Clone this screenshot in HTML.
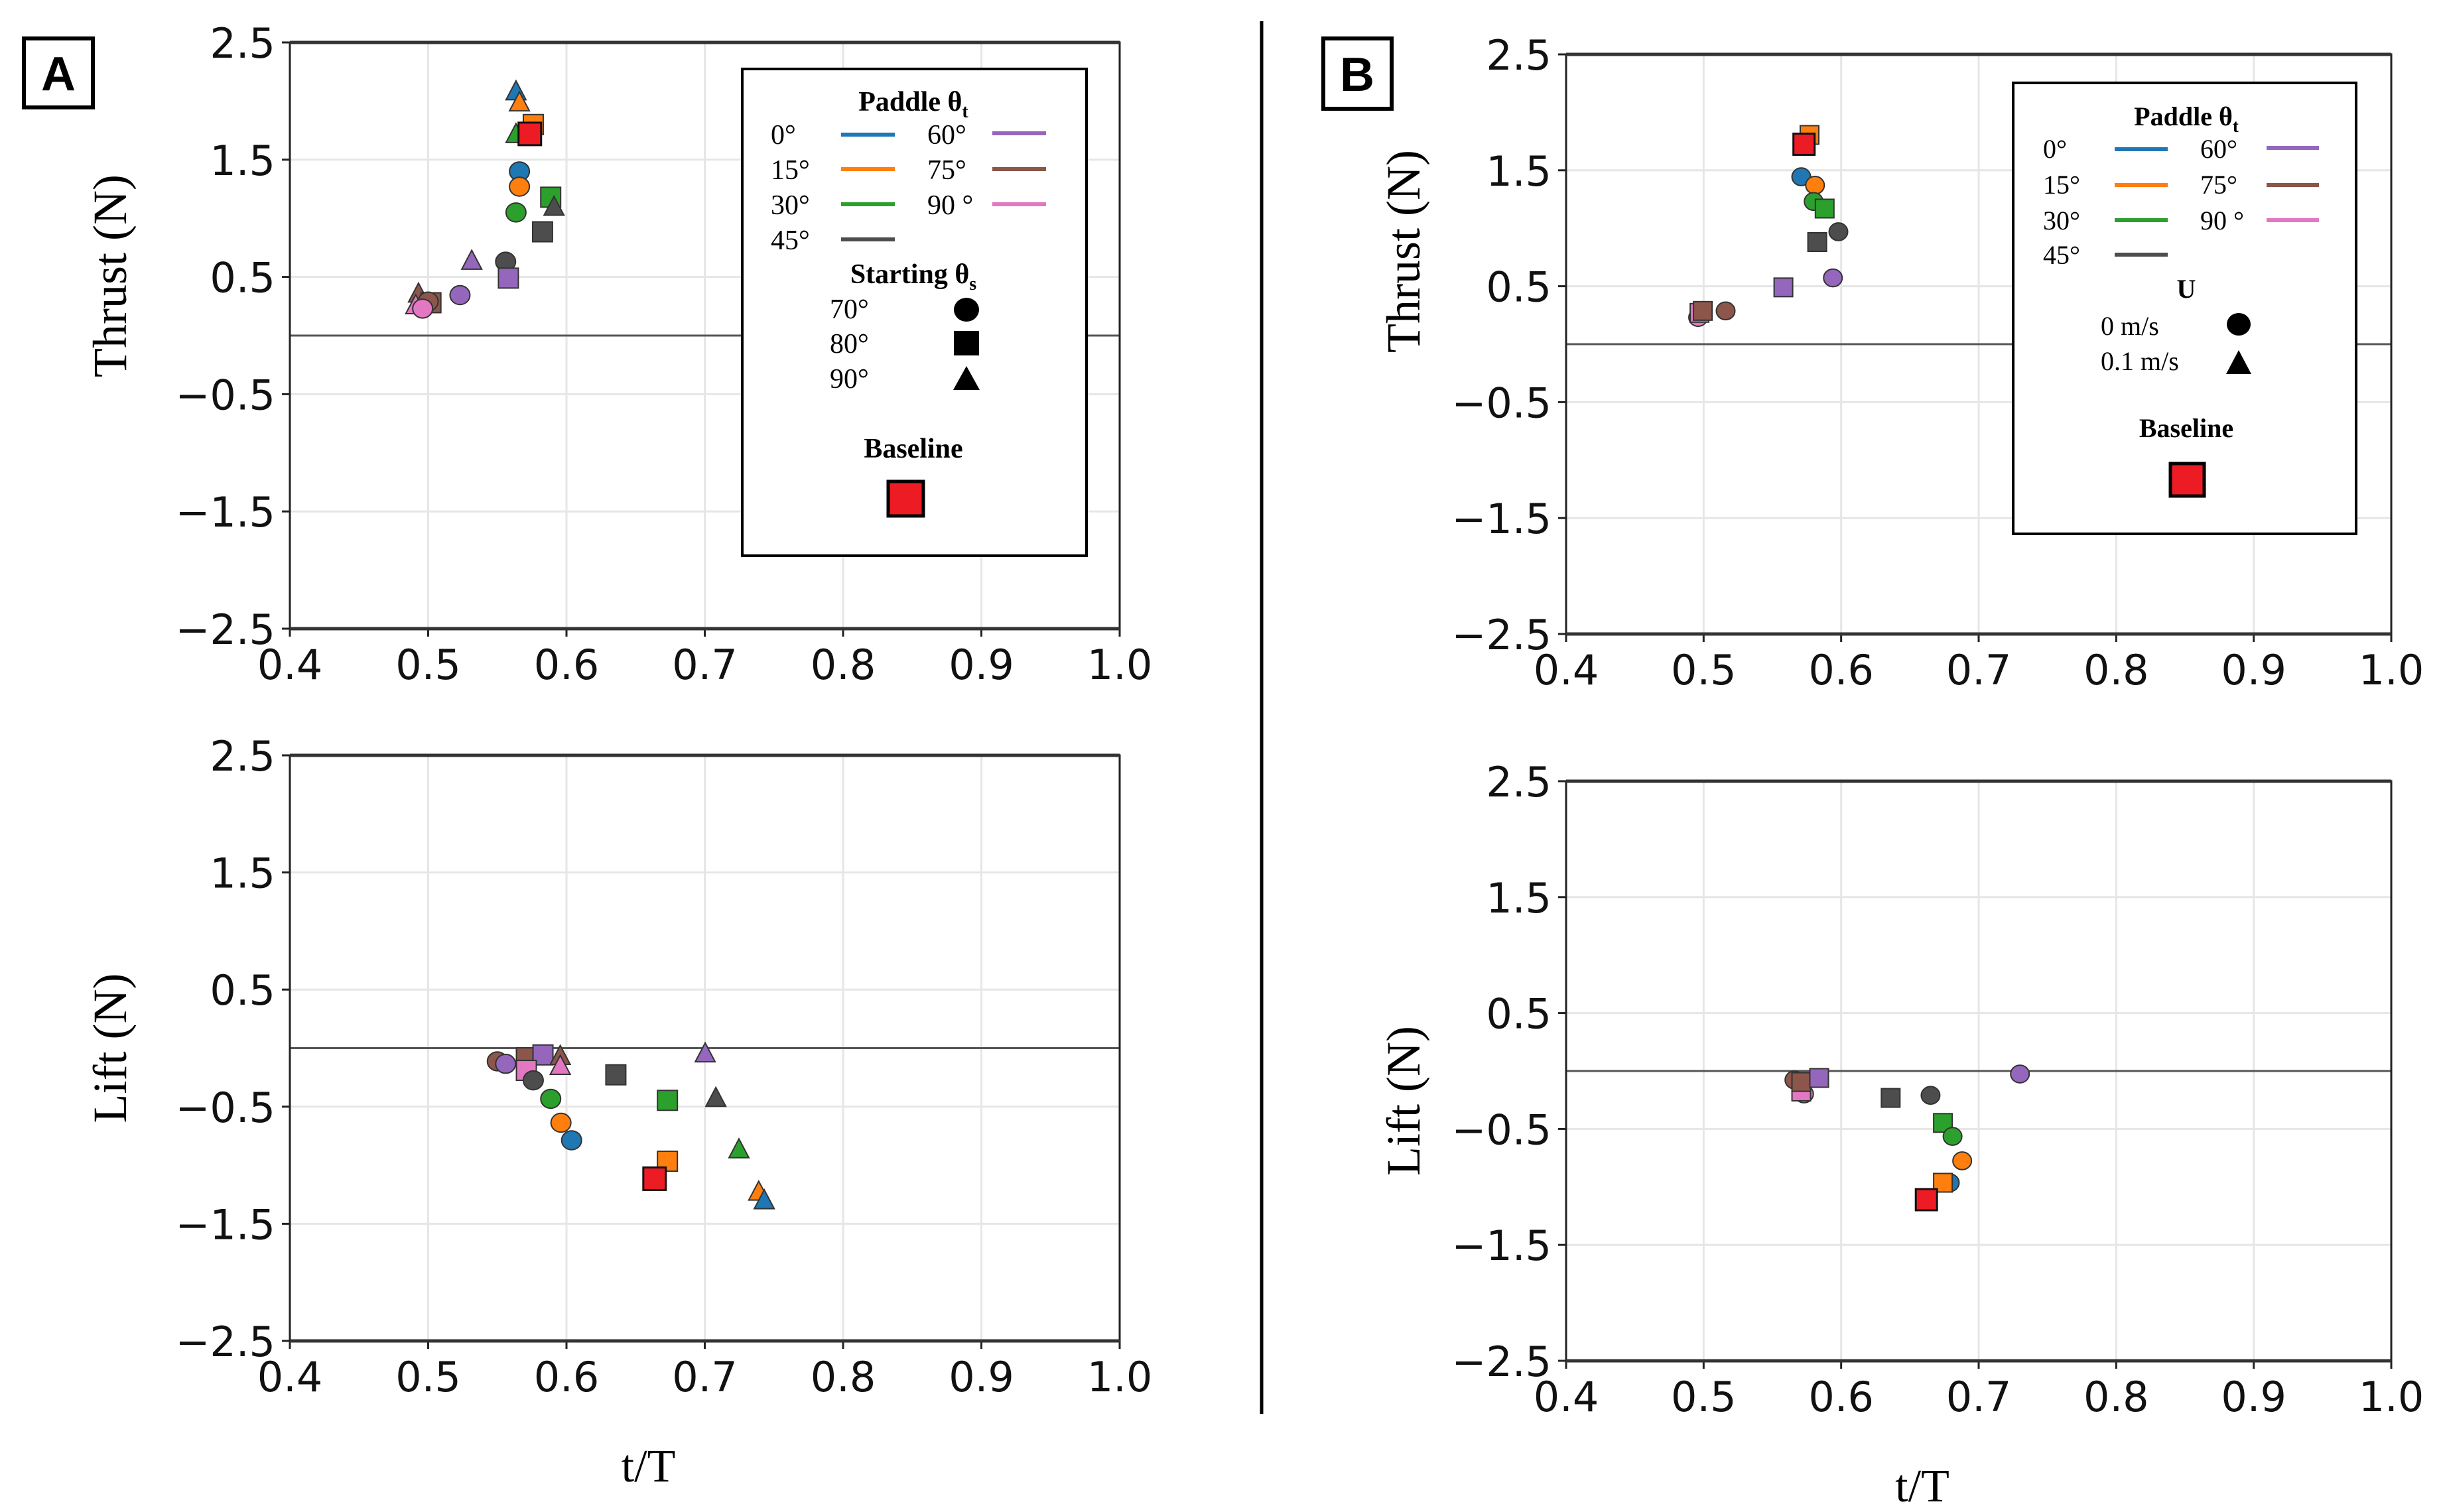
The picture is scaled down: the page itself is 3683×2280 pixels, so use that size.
<!DOCTYPE html>
<html><head><meta charset="utf-8"><style>
html,body{margin:0;padding:0;background:#fff;}
svg{display:block;}
.tick{font-family:"DejaVu Sans","Liberation Sans",sans-serif;font-size:62px;fill:#111;}
.ser{font-family:"Liberation Serif",serif;fill:#000;}
</style></head><body>
<svg id="fig" width="3683" height="2280" viewBox="0 0 3683 2280" xmlns="http://www.w3.org/2000/svg">
<rect width="3683" height="2280" fill="#fff"/>
<g id="plots"></g>
<line x1="1902" y1="32" x2="1902" y2="2132" stroke="#000" stroke-width="5"/>
<g>
<rect x="36" y="58" width="104" height="104" fill="#fff" stroke="#000" stroke-width="6"/>
<text x="88" y="136" text-anchor="middle" font-family="Liberation Sans, sans-serif" font-weight="bold" font-size="72">A</text>
</g>
<g>
<rect x="1995" y="58" width="103" height="106" fill="#fff" stroke="#000" stroke-width="6"/>
<text x="2046" y="137" text-anchor="middle" font-family="Liberation Sans, sans-serif" font-weight="bold" font-size="72">B</text>
</g>
<g class="ser">
<rect x="1119" y="104" width="519" height="734" fill="#fff" stroke="#000" stroke-width="4"/>
<text x="1377" y="167" text-anchor="middle" font-weight="bold" font-size="42">Paddle θ<tspan font-size="28" dy="10">t</tspan></text>
<g font-size="42">
<text x="1162" y="217">0°</text><line x1="1268" y1="203" x2="1349" y2="203" stroke="#1f77b4" stroke-width="6"/>
<text x="1162" y="270">15°</text><line x1="1268" y1="255" x2="1349" y2="255" stroke="#ff7f0e" stroke-width="6"/>
<text x="1162" y="323">30°</text><line x1="1268" y1="308" x2="1349" y2="308" stroke="#2ca02c" stroke-width="6"/>
<text x="1162" y="376">45°</text><line x1="1268" y1="361" x2="1349" y2="361" stroke="#4d4d4d" stroke-width="6"/>
<text x="1398" y="217">60°</text><line x1="1496" y1="201" x2="1577" y2="201" stroke="#9467bd" stroke-width="6"/>
<text x="1398" y="270">75°</text><line x1="1496" y1="255" x2="1577" y2="255" stroke="#8c564b" stroke-width="6"/>
<text x="1398" y="323">90 °</text><line x1="1496" y1="308" x2="1577" y2="308" stroke="#e377c2" stroke-width="6"/>
</g>
<text x="1377" y="427" text-anchor="middle" font-weight="bold" font-size="42">Starting θ<tspan font-size="28" dy="10">s</tspan></text>
<g font-size="42">
<text x="1251" y="480">70°</text><ellipse cx="1457" cy="467" rx="19" ry="18" fill="#000"/>
<text x="1251" y="532">80°</text><rect x="1438" y="499" width="38" height="37" fill="#000"/>
<text x="1251" y="585">90°</text><polygon points="1457,552 1477,588 1437,588" fill="#000"/>
</g>
<text x="1377" y="690" text-anchor="middle" font-weight="bold" font-size="42">Baseline</text>
<rect x="1339" y="726" width="53" height="52" fill="#ed1c24" stroke="#000" stroke-width="5"/>
</g>
<g class="ser">
<rect x="3035" y="125" width="517" height="680" fill="#fff" stroke="#000" stroke-width="4"/>
<text x="3296" y="189" text-anchor="middle" font-weight="bold" font-size="40">Paddle θ<tspan font-size="27" dy="10">t</tspan></text>
<g font-size="40">
<text x="3080" y="238">0°</text><line x1="3188" y1="225" x2="3268" y2="225" stroke="#1f77b4" stroke-width="6"/>
<text x="3080" y="292">15°</text><line x1="3188" y1="279" x2="3268" y2="279" stroke="#ff7f0e" stroke-width="6"/>
<text x="3080" y="346">30°</text><line x1="3188" y1="332" x2="3268" y2="332" stroke="#2ca02c" stroke-width="6"/>
<text x="3080" y="398">45°</text><line x1="3188" y1="384" x2="3268" y2="384" stroke="#4d4d4d" stroke-width="6"/>
<text x="3317" y="238">60°</text><line x1="3417" y1="223" x2="3496" y2="223" stroke="#9467bd" stroke-width="6"/>
<text x="3317" y="292">75°</text><line x1="3417" y1="279" x2="3496" y2="279" stroke="#8c564b" stroke-width="6"/>
<text x="3317" y="346">90 °</text><line x1="3417" y1="332" x2="3496" y2="332" stroke="#e377c2" stroke-width="6"/>
</g>
<text x="3296" y="449" text-anchor="middle" font-weight="bold" font-size="40">U</text>
<g font-size="40">
<text x="3167" y="505">0 m/s</text><ellipse cx="3375" cy="489" rx="18" ry="17" fill="#000"/>
<text x="3167" y="558">0.1 m/s</text><polygon points="3375,528 3394,564 3356,564" fill="#000"/>
</g>
<text x="3296" y="659" text-anchor="middle" font-weight="bold" font-size="40">Baseline</text>
<rect x="3272" y="699" width="51" height="49" fill="#ed1c24" stroke="#000" stroke-width="5"/>
</g>
</svg>
<script>
const paddleColors = ["#1f77b4","#ff7f0e","#2ca02c","#4d4d4d","#9467bd","#8c564b","#e377c2"];
const xTicks = [0.4,0.5,0.6,0.7,0.8,0.9,1.0];
const xTickLabels = ["0.4","0.5","0.6","0.7","0.8","0.9","1.0"];
const yTicks = [2.5,1.5,0.5,-0.5,-1.5,-2.5];
const yTickLabels = ["2.5","1.5","0.5","\u22120.5","\u22121.5","\u22122.5"];

const aThrustX = [0.5635,0.566,0.576,0.5635,0.566,0.566,0.5886,0.591,0.5635,0.5827,0.556,0.5315,0.558,0.523,0.493,0.502,0.500,0.491,0.496];
const aThrustY = [2.075,1.98,1.80,1.71,1.40,1.27,1.18,1.09,1.05,0.885,0.63,0.63,0.49,0.345,0.35,0.28,0.29,0.25,0.23];
const aThrustPaddle = [0,1,1,2,0,1,2,3,2,3,3,4,4,4,5,5,5,6,6];
const aThrustShape = ["^","^","s","^","o","o","s","^","o","s","o","^","s","o","^","s","o","^","o"];
const aThrustBase = [0.5735,1.72];

const aLiftX = [0.550,0.556,0.571,0.583,0.571,0.5955,0.5955,0.576,0.5886,0.6357,0.7003,0.673,0.708,0.596,0.6037,0.673,0.7247,0.739,0.743];
const aLiftY = [-0.113,-0.134,-0.083,-0.058,-0.19,-0.075,-0.16,-0.275,-0.433,-0.228,-0.053,-0.446,-0.433,-0.637,-0.787,-0.966,-0.872,-1.234,-1.307];
const aLiftPaddle = [5,4,5,4,6,5,6,3,2,3,4,2,3,1,0,1,2,1,0];
const aLiftShape = ["o","o","s","s","s","^","^","o","o","s","^","s","^","o","o","s","^","^","^"];
const aLiftBase = [0.6637,-1.115];

const bThrustX = [0.577,0.571,0.581,0.580,0.588,0.598,0.5826,0.594,0.558,0.496,0.497,0.4994,0.516];
const bThrustY = [1.805,1.444,1.371,1.231,1.17,0.97,0.881,0.572,0.49,0.23,0.27,0.287,0.287];
const bThrustPaddle = [1,0,1,2,2,3,3,4,4,6,6,5,5];
const bThrustShape = ["s","o","o","o","s","o","s","o","s","o","s","s","o"];
const bThrustBase = [0.573,1.725];

const bLiftX = [0.566,0.573,0.571,0.571,0.584,0.636,0.665,0.730,0.674,0.681,0.688,0.679,0.674];
const bLiftY = [-0.077,-0.198,-0.177,-0.095,-0.06,-0.232,-0.21,-0.026,-0.448,-0.564,-0.775,-0.964,-0.964];
const bLiftPaddle = [5,6,6,5,4,3,3,4,2,2,1,0,1];
const bLiftShape = ["o","o","s","s","s","s","o","o","s","o","o","o","s"];
const bLiftBase = [0.662,-1.11];

const NS = "http://www.w3.org/2000/svg";
const root = document.getElementById("plots");
function el(tag, attrs, parent){ const e=document.createElementNS(NS,tag); for(const k in attrs) e.setAttribute(k,attrs[k]); (parent||root).appendChild(e); return e; }

function panel(id, box, yTitle, xs, ys, pads, shapes, base, showXTitle){
  const g = el("g",{});
  
  
  const sx = v => box.x0 + (v-0.4)/0.6*(box.x1-box.x0);
  const sy = v => box.yT + (2.5-v)/5*(box.yB-box.yT);
  xTicks.forEach((t,i)=>{
    if(i>0 && i<xTicks.length-1){ const l=el("line",{x1:sx(t),x2:sx(t),y1:box.yT,y2:box.yB,stroke:"#e6e6e6","stroke-width":3},g);
        }
    el("line",{x1:sx(t),x2:sx(t),y1:box.yB,y2:box.yB+12,stroke:"#222","stroke-width":3},g);
    const tx=el("text",{x:sx(t),y:box.yB+76,"text-anchor":"middle",class:"tick"},g); tx.textContent=xTickLabels[i];
     
  });
  yTicks.forEach((t,i)=>{
    if(i>0 && i<yTicks.length-1){ const l=el("line",{x1:box.x0,x2:box.x1,y1:sy(t),y2:sy(t),stroke:"#e6e6e6","stroke-width":3},g);
        }
    el("line",{x1:box.x0-12,x2:box.x0,y1:sy(t),y2:sy(t),stroke:"#222","stroke-width":3},g);
    const ty=el("text",{x:box.x0-22,y:sy(t)+23,"text-anchor":"end",class:"tick"},g); ty.textContent=yTickLabels[i];
     
  });
  const z=el("line",{x1:box.x0,x2:box.x1,y1:sy(0),y2:sy(0),stroke:"#555","stroke-width":3},g);
   
  const sp=el("rect",{x:box.x0,y:box.yT,width:box.x1-box.x0,height:box.yB-box.yT,fill:"none",stroke:"#222","stroke-width":3},g);
   
  el("line",{x1:box.x0,x2:box.x1,y1:box.yT,y2:box.yT,stroke:"#333","stroke-width":5},g);
  el("line",{x1:box.x0,x2:box.x1,y1:box.yB,y2:box.yB,stroke:"#333","stroke-width":5},g);
  const yt=el("text",{x:0,y:0,"text-anchor":"middle",class:"ser","font-size":72,transform:`translate(${box.tx},${(box.yT+box.yB)/2-box.tOff}) rotate(-90)`},g);
  yt.textContent=yTitle;
   
  if(showXTitle){ const xt=el("text",{x:(box.x0+box.x1)/2-85,y:box.yB+212,"text-anchor":"middle",class:"ser","font-size":70},g);
    xt.textContent="t/T";   }
  const r = box.ms;
  function marker(px,py,shape,fill,size,sw,stroke){
    let m;
    if(shape==="o") m=el("ellipse",{cx:px,cy:py,rx:size,ry:size*0.95},g);
    else if(shape==="s") m=el("rect",{x:px-size,y:py-size,width:2*size,height:2*size},g);
    else m=el("polygon",{points:`${px},${py-size*1.15} ${px+size},${py+size*0.75} ${px-size},${py+size*0.75}`},g);
    m.setAttribute("fill",fill); m.setAttribute("stroke",stroke); m.setAttribute("stroke-width",sw);
    return m;
  }
  for(let i=0;i<xs.length;i++){
    const m=marker(sx(xs[i]),sy(ys[i]),shapes[i],paddleColors[pads[i]],r,2,"#333");
    
    
  }
  const b=marker(sx(base[0]),sy(base[1]),"s","#ed1c24",r+2,3,"#111");
  
  
}

panel("thrust-plot-a",{x0:437,x1:1688,yT:64,yB:948,tx:190,tOff:90,ms:15},"Thrust (N)",aThrustX,aThrustY,aThrustPaddle,aThrustShape,aThrustBase,false);
panel("lift-plot-a",{x0:437,x1:1688,yT:1139,yB:2022,tx:190,tOff:0,ms:15},"Lift (N)",aLiftX,aLiftY,aLiftPaddle,aLiftShape,aLiftBase,true);
panel("thrust-plot-b",{x0:2361,x1:3605,yT:82,yB:956,tx:2140,tOff:140,ms:14},"Thrust (N)",bThrustX,bThrustY,bThrustPaddle,bThrustShape,bThrustBase,false);
panel("lift-plot-b",{x0:2361,x1:3605,yT:1178,yB:2052,tx:2140,tOff:-45,ms:14},"Lift (N)",bLiftX,bLiftY,bLiftPaddle,bLiftShape,bLiftBase,true);
</script>
</body></html>
